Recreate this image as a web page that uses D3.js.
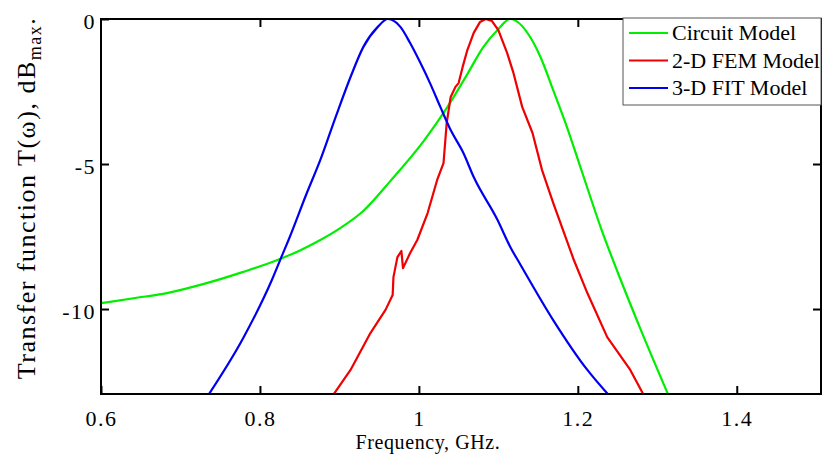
<!DOCTYPE html>
<html>
<head>
<meta charset="utf-8">
<script src="https://cdn.jsdelivr.net/npm/d3@7"></script>
<style>
  body { margin: 0; background: #fff; }
  text { font-family: "Liberation Serif", "Times New Roman", serif; fill: #000; }
</style>
</head>
<body>
<div id="chart"></div>
<script>
const w = 823;
const h = 454;

// frequency (GHz) and transfer function (dB rel. max)
const circuitFreq = [0.600, 0.643, 0.683, 0.734, 0.779, 0.822, 0.851, 0.876, 0.901, 0.930, 0.964,
                     1.006, 1.036, 1.061, 1.081, 1.099, 1.115, 1.140, 1.153, 1.169, 1.186, 1.205,
                     1.229, 1.254, 1.279, 1.314];
const circuitDb = [-9.80, -9.62, -9.45, -9.10, -8.72, -8.31, -7.97, -7.62, -7.21, -6.62, -5.59,
                   -4.21, -3.03, -1.90, -0.97, -0.38, 0, -0.62, -1.31, -2.45, -3.70, -5.25,
                   -7.20, -9.00, -10.70, -12.97];

const femFreq = [0.892, 0.914, 0.939, 0.958, 0.967, 0.968, 0.973, 0.978, 0.980, 0.989, 0.998, 1.011,
                 1.023, 1.031, 1.035, 1.040, 1.046, 1.050, 1.055, 1.061, 1.069, 1.077, 1.084, 1.092,
                 1.100, 1.111, 1.119, 1.130, 1.143, 1.155, 1.169, 1.195, 1.212, 1.237, 1.266, 1.283];
const femDb = [-12.97, -12.10, -10.83, -10.03, -9.52, -8.90, -8.21, -8.00, -8.59, -8.07, -7.62, -6.69,
               -5.55, -4.97, -3.59, -2.69, -2.34, -2.21, -1.66, -1.07, -0.48, -0.10, 0, -0.07,
               -0.38, -1.17, -1.86, -3.03, -3.93, -5.21, -6.34, -8.31, -9.45, -10.97, -12.10, -12.97];

const fitFreq = [0.735, 0.779, 0.815, 0.828, 0.836, 0.859, 0.876, 0.895, 0.914, 0.930, 0.948,
                 0.961, 0.977, 0.989, 1.002, 1.014, 1.027, 1.040, 1.056, 1.069, 1.099, 1.115, 1.128,
                 1.169, 1.212, 1.239];
const fitDb = [-12.97, -11.00, -9.00, -8.14, -7.62, -6.00, -4.86, -3.40, -2.00, -0.97, -0.28,
               0, -0.28, -0.83, -1.52, -2.21, -3.03, -3.83, -4.62, -5.45, -6.93, -7.86, -8.48,
               -10.38, -12.10, -12.97];

const seriesNames = ["Circuit Model", "2-D FEM Model", "3-D FIT Model"];
const seriesColors = ["#00ee00", "#f00000", "#0000f0"];

const xTicks = [0.6, 0.8, 1, 1.2, 1.4];
const yTicks = [0, -5, -10];

const plotLeft = 101, plotRight = 821, plotTop = 19, plotBottom = 394;

const x = d3.scaleLinear().domain([0.6, 1.506]).range([plotLeft, plotRight]);
const y = d3.scaleLinear().domain([-12.93, 0]).range([plotBottom, plotTop]);

const svg = d3.select("#chart").append("svg").attr("width", w).attr("height", h);

svg.append("clipPath").attr("id", "plot-clip")
    .append("rect")
    .attr("x", plotLeft).attr("y", plotTop)
    .attr("width", plotRight - plotLeft).attr("height", plotBottom - plotTop);

const series = [
    { freq: circuitFreq, db: circuitDb, curve: d3.curveMonotoneX },
    { freq: femFreq, db: femDb, curve: d3.curveLinear },
    { freq: fitFreq, db: fitDb, curve: d3.curveMonotoneX }
];

series.forEach((s, i) => {
    const line = d3.line()
        .x(d => x(d[0]))
        .y(d => y(d[1]))
        .curve(s.curve);
    svg.append("path")
        .datum(s.freq.map((f, k) => [f, s.db[k]]))
        .attr("clip-path", "url(#plot-clip)")
        .attr("d", line)
        .style("fill", "none")
        .style("stroke", seriesColors[i])
        .style("stroke-width", 2.2)
        .style("stroke-linejoin", "round");
});

// axes: ticks on all four sides, pointing inward
const tickLen = 8;
const axisStyle = g => {
    g.attr("font-family", null).attr("font-size", null);
    g.select(".domain").remove();
    g.selectAll("line").style("stroke", "#000").style("stroke-width", 2);
    g.selectAll("text")
        .attr("fill", "#000")
        .style("font-size", "22px")
        .style("letter-spacing", "1.5px");
};

svg.append("g")
    .attr("transform", `translate(0,${plotBottom})`)
    .call(d3.axisBottom(x).tickValues(xTicks).tickSizeInner(-tickLen).tickSizeOuter(0)
        .tickPadding(0).tickFormat(d => String(d)))
    .call(axisStyle)
    .call(g => g.selectAll("text").attr("y", 32).attr("dy", null));

svg.append("g")
    .attr("transform", `translate(0,${plotTop})`)
    .call(d3.axisTop(x).tickValues(xTicks.slice(1)).tickSizeInner(-tickLen).tickSizeOuter(0).tickFormat(""))
    .call(axisStyle);

svg.append("g")
    .attr("transform", `translate(${plotLeft},0)`)
    .call(d3.axisLeft(y).tickValues(yTicks).tickSizeInner(-tickLen).tickSizeOuter(0)
        .tickPadding(5).tickFormat(d => String(d)))
    .call(axisStyle)
    .call(g => g.selectAll("text").attr("dy", "0.42em"));

svg.append("g")
    .attr("transform", `translate(${plotRight},0)`)
    .call(d3.axisRight(y).tickValues(yTicks.slice(1)).tickSizeInner(-tickLen).tickSizeOuter(0).tickFormat(""))
    .call(axisStyle);

svg.append("rect")
    .attr("x", plotLeft).attr("y", plotTop)
    .attr("width", plotRight - plotLeft).attr("height", plotBottom - plotTop)
    .style("fill", "none")
    .style("stroke", "#000")
    .style("stroke-width", 2);

// axis titles
svg.append("text")
    .attr("x", 428)
    .attr("y", 449)
    .attr("text-anchor", "middle")
    .style("font-size", "20px")
    .style("letter-spacing", "0.6px")
    .text("Frequency, GHz.");

const yTitle = svg.append("text")
    .attr("transform", "translate(35,198) rotate(-90)")
    .attr("text-anchor", "middle")
    .style("font-size", "26px")
    .style("letter-spacing", "1.5px");
yTitle.append("tspan").text("Transfer function T(ω), dB");
yTitle.append("tspan").attr("dy", 6).style("font-size", "18px").text("max");
yTitle.append("tspan").attr("dy", -6).text(".");

// legend
const legend = svg.append("g");
legend.append("rect")
    .attr("x", 623).attr("y", 18)
    .attr("width", 198).attr("height", 87)
    .style("fill", "#fff")
    .style("stroke", "#555")
    .style("stroke-width", 1);

seriesNames.forEach((name, i) => {
    const ly = 33 + i * 27.5;
    legend.append("line")
        .attr("x1", 629).attr("x2", 668)
        .attr("y1", ly).attr("y2", ly)
        .style("stroke", seriesColors[i])
        .style("stroke-width", 2.2);
    legend.append("text")
        .attr("x", 672).attr("y", ly)
        .attr("dy", "0.33em")
        .style("font-size", "22px")
        .text(name);
});
</script>
</body>
</html>
